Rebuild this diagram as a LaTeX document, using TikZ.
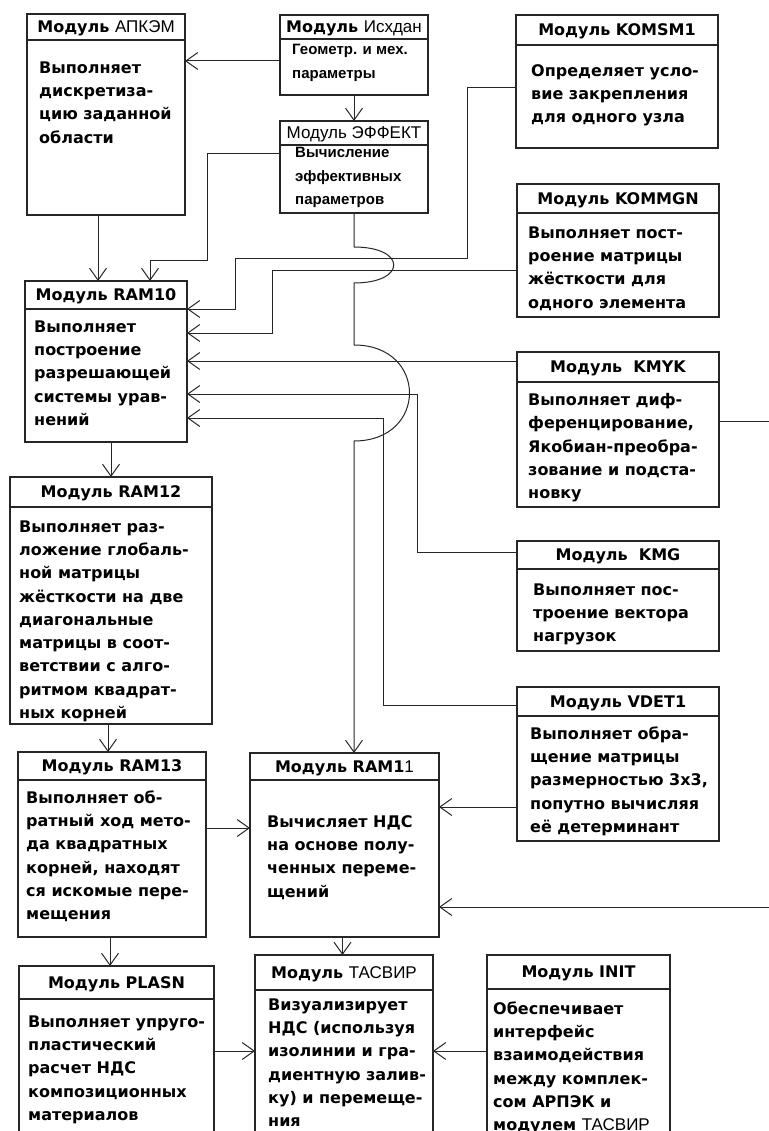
\documentclass[tikz,border=0pt]{standalone}
\usepackage{fontspec}
\setmainfont{DejaVu Sans}
\newfontfamily\lsans{Liberation Sans}
\usetikzlibrary{arrows.meta, positioning}
\newcommand{\nm}[1]{{\lsans\mdseries\fontsize{17}{19}\selectfont #1}}% thin module name

\tikzset{
	hbox/.style={draw=black!85, line width=1.3pt, inner sep=0pt, outer sep=0pt, anchor=north west,
		font=\fontsize{16}{19}\selectfont\bfseries, text depth=0pt},
	bbox/.style={draw=black!85, line width=1.3pt, inner sep=0pt, outer sep=0pt},
	% text placed at the baseline of its first line
	txt/.style={anchor=north west, yshift=11.7pt, align=left, inner sep=0pt, font=\fontsize{16}{23.3}\selectfont\bfseries},
	stxt/.style={anchor=north west, yshift=10.7pt, align=left, inner sep=0pt, font=\lsans\fontsize{15}{23.3}\selectfont\bfseries},
	arr/.style={draw=black!85, line width=1pt, -{Straight Barb[length=12pt,width=17pt]}}
}

\begin{document}
\begin{tikzpicture}[x=1pt, y=-1pt]
	\useasboundingbox (0,0) rectangle (768,1131);
	
	\node[hbox, minimum width=158, minimum height=26] (apkemH) at (27,14) {Модуль \nm{АПКЭМ}};
	\node[bbox, minimum width=158, minimum height=175, below=0pt of apkemH] (apkem) {};
	\node[hbox, minimum width=148, minimum height=24] (ishdanH) at (280,15) {Модуль \nm{Исхдан}};
	\node[bbox, minimum width=148, minimum height=56, below=0pt of ishdanH] (ishdan) {};
	\node[hbox, minimum width=148, minimum height=24] (effektH) at (280,121) {\nm{Модуль ЭФФЕКТ}};
	\node[bbox, minimum width=148, minimum height=68, below=0pt of effektH] (effekt) {};
	
	\node[hbox, minimum width=202, minimum height=30] (komsmH) at (516,15) {Модуль KOMSM1};
	\node[bbox, minimum width=202, minimum height=103, below=0pt of komsmH] (komsm) {};
	\node[hbox, minimum width=202, minimum height=29] (kommgnH) at (517,184) {Модуль KOMMGN};
	\node[bbox, minimum width=202, minimum height=104, below=0pt of kommgnH] (kommgn) {};
	\node[hbox, minimum width=202, minimum height=30] (kmykH) at (517,352) {Модуль~~KMYK};
	\node[bbox, minimum width=202, minimum height=125, below=0pt of kmykH] (kmyk) {};
	\node[hbox, minimum width=202, minimum height=28] (kmgH) at (517,541) {Модуль~~KMG};
	\node[bbox, minimum width=202, minimum height=82, below=0pt of kmgH] (kmg) {};
	\node[hbox, minimum width=202, minimum height=29] (vdetH) at (517,687) {Модуль VDET1};
	\node[bbox, minimum width=202, minimum height=125, below=0pt of vdetH] (vdet) {};
	
	\node[hbox, minimum width=162, minimum height=28] (ram10H) at (25,281) {Модуль RAM10};
	\node[bbox, minimum width=162, minimum height=133, below=0pt of ram10H] (ram10) {};
	\node[hbox, minimum width=202, minimum height=30] (ram12H) at (10,477) {Модуль RAM12};
	\node[bbox, minimum width=202, minimum height=217, below=0pt of ram12H] (ram12) {};
	\node[hbox, minimum width=188, minimum height=28] (ram13H) at (18,752) {Модуль RAM13};
	\node[bbox, minimum width=188, minimum height=157, below=0pt of ram13H] (ram13) {};
	\node[hbox, minimum width=189, minimum height=27] (ram11H) at (250,753) {Модуль RAM1\nm{1}};
	\node[bbox, minimum width=189, minimum height=157, below=0pt of ram11H] (ram11) {};
	
	\node[hbox, minimum width=195, minimum height=33] (plasnH) at (19,966) {Модуль PLASN};
	\node[bbox, minimum width=195, minimum height=150, below=0pt of plasnH] (plasn) {};
	\node[hbox, minimum width=178, minimum height=35] (tasvirH) at (255,955) {Модуль \nm{ТАСВИР}};
	\node[bbox, minimum width=178, minimum height=160, below=0pt of tasvirH] (tasvir) {};
	\node[hbox, minimum width=183, minimum height=34] (initH) at (487,955) {Модуль INIT};
	\node[bbox, minimum width=183, minimum height=160, below=0pt of initH] (init) {};
	
	%%%%%%%%%%%%%%%%%%%%%%%%%%%%%%
	
	\node[txt] (apkemT) at (39,73) {Выполняет\\дискретиза-\\цию заданной\\области};
	\node[stxt] (ishdanT) at (292,55) {Геометр. и мех.\\параметры};
	\node[stxt] (effektT) at (295,158) {Вычисление\\эффективных\\параметров};
	\node[txt] (komsmT) at (531,76) {Определяет усло-\\вие закрепления\\для одного узла};
	\node[txt] (kommgnT) at (528,238) {Выполняет пост-\\роение матрицы\\жёсткости для\\одного элемента};
	\node[txt] (kmykT) at (528,405) {Выполняет диф-\\ференцирование,\\Якобиан-преобра-\\зование и подста-\\новку};
	\node[txt] (kmgT) at (533,595) {Выполняет пос-\\троение вектора\\нагрузок};
	\node[txt] (vdetT) at (530,738) {Выполняет обра-\\щение матрицы\\размерностью 3х3,\\попутно вычисляя\\её детерминант};
	\node[txt] (ram10T) at (34,332) {Выполняет\\построение\\разрешающей\\системы урав-\\нений};
	\node[txt] (ram12T) at (19,532) {Выполняет раз-\\ложение глобаль-\\ной матрицы\\жёсткости на две\\диагональные\\матрицы в соот-\\ветствии с алго-\\ритмом квадрат-\\ных корней};
	\node[txt] (ram13T) at (26,802) {Выполняет об-\\ратный ход мето-\\да квадратных\\корней, находят\\ся искомые пере-\\мещения};
	\node[txt] (ram11T) at (267,827) {Вычисляет НДС\\на основе полу-\\ченных переме-\\щений};
	\node[txt] (plasnT) at (28,1027) {Выполняет упруго-\\пластический\\расчет НДС\\композиционных\\материалов};
	\node[txt] (tasvirT) at (268,1010) {Визуализирует\\НДС (используя\\изолинии и гра-\\диентную залив-\\ку) и перемеще-\\ния};
	\node[txt] (initT) at (493,1013) {Обеспечивает\\интерфейс\\взаимодействия\\между комплек-\\сом АРПЭК и\\модулем \nm{ТАСВИР}};
	
	%%%%%%%%%%%%%%%%%%%%%%%%%%%%%%
	
	\draw[arr] ([yshift=6pt]ishdan.west) coordinate (c1) -- (c1 -| apkem.east);
	\draw[arr] (ishdan.south) -- (effektH.north);
	\draw[arr] ([xshift=-8pt]apkem.south) coordinate (c2) -- (c2 |- ram10H.north);
	\draw[arr] ([yshift=25pt]effekt.west) -| ++(-73,107) -| ([xshift=44pt]ram10H.north);
	
	% jumps over the lines to RAM10
	\draw[arr] (effekt.south) -- ++(0,34)
		.. controls +(53,0) and +(53,0) .. ++(0,36)
		-- ++(0,62)
		.. controls +(74,0) and +(74,0) .. ++(0,96) coordinate (c3)
		-- (c3 |- ram11H.north);
	
	\draw[arr] ([yshift=8.5pt]komsm.west) -| ++(-49,171) -| ([xshift=48pt]ram10.north east) -- (ram10.north east);
	\draw[arr] ([yshift=-6pt]kommgn.west) -| ([xshift=85pt,yshift=42.5pt]ram10.east) -- ([yshift=42.5pt]ram10.east);
	\draw[arr] ([yshift=6pt]kmykH.west) coordinate (c4) -- (c4 -| ram10.east);
	\draw[arr] ([yshift=3pt]kmgH.west) -| ([xshift=230pt,yshift=-18.5pt]ram10.east) -- ([yshift=-18.5pt]ram10.east);
	\draw[arr] ([yshift=-3.5pt]vdetH.west) -| ([xshift=196pt,yshift=-42.5pt]ram10.east) -- ([yshift=-42.5pt]ram10.east);
	
	\draw[arr] ([yshift=-28.5pt]vdet.west) coordinate (c5) -- (c5 -| ram11.east);
	\draw[arr] ([yshift=23.5pt]kmyk.east) -| ([xshift=330pt,yshift=-48.5pt]ram11.east) -- ([yshift=-48.5pt]ram11.east);
	
	\draw[arr] (ram10.south -| ram12H.north) -- (ram12H.north);
	\draw[arr] ([xshift=-3pt]ram12.south) coordinate (c6) -- (c6 |- ram13H.north);
	\draw[arr] ([yshift=30.5pt]ram13.east) coordinate (c7) -- (c7 -| ram11.west);
	\draw[arr] ([xshift=-2pt]ram13.south) coordinate (c8) -- (c8 |- plasnH.north);
	\draw[arr] ([xshift=-2pt]ram11.south) coordinate (c9) -- (c9 |- tasvirH.north);
	\draw[arr] ([yshift=23pt]plasn.east) coordinate (c10) -- (c10 -| tasvir.west);
	\draw[arr] ([yshift=18pt]init.west) coordinate (c11) -- (c11 -| tasvir.east);
	
\end{tikzpicture}
\end{document}
